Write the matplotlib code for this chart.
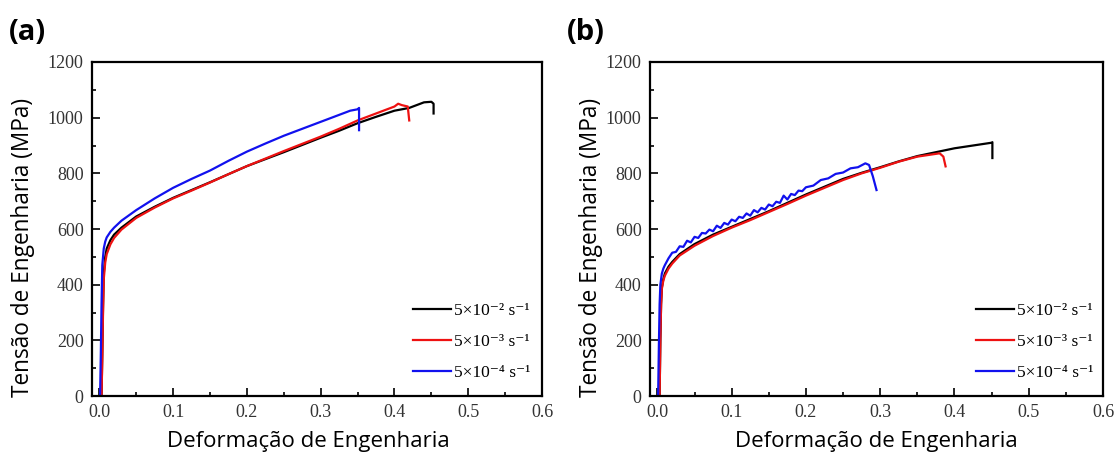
import matplotlib
matplotlib.use('Agg')
import matplotlib.pyplot as plt
from matplotlib.ticker import MultipleLocator

# strain / stress readings, panel (a)
black_a_x = [0.003, 0.004, 0.005, 0.006, 0.008, 0.010, 0.015, 0.02, 0.03, 0.05, 0.075, 0.10, 0.125, 0.15,
             0.175, 0.20, 0.225, 0.25, 0.275, 0.30, 0.325, 0.35, 0.375, 0.40, 0.42, 0.43, 0.44, 0.45, 0.453, 0.453]
black_a_y = [0, 150, 320, 440, 500, 530, 560, 580, 605, 645, 680, 712, 740, 768,
             797, 826, 851, 876, 902, 928, 953, 980, 1003, 1025, 1035, 1045, 1055, 1057, 1050, 1015]
red_a_x = [0.003, 0.004, 0.005, 0.006, 0.008, 0.010, 0.015, 0.02, 0.03, 0.05, 0.075, 0.10, 0.125, 0.15,
           0.175, 0.20, 0.225, 0.25, 0.275, 0.30, 0.325, 0.35, 0.375, 0.39, 0.40, 0.405, 0.41, 0.418, 0.42]
red_a_y = [0, 140, 300, 420, 480, 510, 545, 568, 598, 640, 677, 710, 738, 767,
           797, 826, 853, 880, 906, 932, 960, 990, 1015, 1030, 1040, 1050, 1045, 1040, 990]
blue_a_x = [0.001, 0.002, 0.003, 0.004, 0.006, 0.008, 0.01, 0.015, 0.02, 0.03, 0.05, 0.075, 0.10, 0.125,
            0.15, 0.175, 0.20, 0.225, 0.25, 0.275, 0.30, 0.325, 0.34, 0.35, 0.352, 0.352]
blue_a_y = [0, 150, 330, 470, 530, 555, 570, 590, 605, 630, 668, 710, 748, 780,
            810, 845, 878, 907, 935, 960, 985, 1010, 1025, 1030, 1035, 955]

# panel (b)
black_b_x = [0.003, 0.004, 0.005, 0.006, 0.008, 0.01, 0.015, 0.02, 0.03, 0.05, 0.075, 0.10, 0.125, 0.15,
             0.175, 0.20, 0.225, 0.25, 0.275, 0.30, 0.325, 0.35, 0.375, 0.40, 0.425, 0.44, 0.45, 0.451, 0.451]
black_b_y = [0, 200, 330, 390, 420, 440, 465, 482, 510, 546, 580, 608, 636, 664,
             694, 724, 752, 780, 802, 822, 843, 862, 876, 890, 900, 906, 910, 912, 855]
red_b_x = [0.003, 0.004, 0.005, 0.006, 0.008, 0.01, 0.015, 0.02, 0.03, 0.05, 0.075, 0.10, 0.125, 0.15,
           0.175, 0.20, 0.225, 0.25, 0.275, 0.30, 0.325, 0.35, 0.375, 0.38, 0.385, 0.388]
red_b_y = [0, 200, 330, 385, 415, 432, 458, 476, 505, 540, 575, 605, 632, 661,
           690, 720, 748, 776, 800, 820, 842, 860, 870, 872, 860, 825]
blue_b_x = [0.001, 0.002, 0.003, 0.004, 0.006, 0.008, 0.01, 0.015, 0.02, 0.025, 0.03, 0.035, 0.04, 0.045,
            0.05, 0.055, 0.06, 0.065, 0.07, 0.075, 0.08, 0.085, 0.09, 0.095, 0.10, 0.105, 0.11, 0.115,
            0.12, 0.125, 0.13, 0.135, 0.14, 0.145, 0.15, 0.155, 0.16, 0.165, 0.17, 0.175, 0.18, 0.185,
            0.19, 0.195, 0.20, 0.21, 0.22, 0.23, 0.24, 0.25, 0.26, 0.27, 0.28, 0.285, 0.29, 0.295]
blue_b_y = [0, 180, 330, 400, 440, 458, 470, 495, 515, 518, 538, 536, 558, 552,
            572, 568, 586, 584, 598, 592, 612, 604, 622, 616, 634, 628, 644, 640,
            656, 648, 668, 660, 676, 670, 688, 682, 698, 694, 720, 706, 726, 722,
            738, 736, 750, 756, 776, 782, 798, 803, 818, 822, 836, 830, 790, 740]

rate_labels = ['5×10⁻² s⁻¹', '5×10⁻³ s⁻¹', '5×10⁻⁴ s⁻¹']
colors = ['black', '#ee1111', '#1111ee']

serif = ['Liberation Serif', 'DejaVu Serif']

fig = plt.figure(figsize=(11.16, 4.59), dpi=100)
ax_a = fig.add_axes([0.0824, 0.137, 0.4033, 0.728])
ax_b = fig.add_axes([0.5824, 0.137, 0.4060, 0.728])

panels = [
    (ax_a, '(a)', [(black_a_x, black_a_y), (red_a_x, red_a_y), (blue_a_x, blue_a_y)], -0.127, 0.48, 0.99),
    (ax_b, '(b)', [(black_b_x, black_b_y), (red_b_x, red_b_y), (blue_b_x, blue_b_y)], -0.104, 0.50, 0.995),
]

for ax, tag, series, ylab_x, xlab_x, leg_x in panels:
    for (x, y), c, lab in zip(series, colors, rate_labels):
        ax.plot(x, y, color=c, linewidth=1.6, label=lab)
    ax.set_xlim(-0.01, 0.6)
    ax.set_ylim(0, 1200)
    ax.xaxis.set_minor_locator(MultipleLocator(0.05))
    ax.yaxis.set_major_locator(MultipleLocator(200))
    ax.yaxis.set_minor_locator(MultipleLocator(100))
    ax.tick_params(which='both', direction='in', top=False, right=False, width=1.2, pad=6)
    ax.tick_params(which='major', length=6)
    ax.tick_params(which='minor', length=3)
    ax.set_xticks([0.0, 0.1, 0.2, 0.3, 0.4, 0.5, 0.6])
    ax.set_xticklabels(['0.0', '0.1', '0.2', '0.3', '0.4', '0.5', '0.6'],
                       fontfamily='Liberation Serif', fontsize=13, color='#333333')
    for lbl in ax.get_yticklabels():
        lbl.set_fontfamily('Liberation Serif')
        lbl.set_fontsize(13)
        lbl.set_color('#333333')
    for sp in ax.spines.values():
        sp.set_linewidth(1.6)
    ax.set_xlabel('Deformação de Engenharia', fontfamily='Open Sans', fontsize=16)
    ax.set_ylabel('Tensão de Engenharia (MPa)', fontfamily='Open Sans', fontsize=16.3)
    ax.xaxis.set_label_coords(xlab_x, -0.105)
    ax.yaxis.set_label_coords(ylab_x, 0.446)
    ax.legend(loc='lower right', bbox_to_anchor=(leg_x, 0.025), borderaxespad=0, frameon=False,
              handlelength=2.2, labelspacing=0.85, handletextpad=0.2,
              prop={'family': serif, 'size': 12.5})
    pos = ax.get_position()
    fig.text(pos.x0 - 0.074, 0.96, tag, fontfamily='Open Sans', fontweight='bold',
             fontsize=21, va='top', ha='left')

fig.savefig('out.png', dpi=100)
